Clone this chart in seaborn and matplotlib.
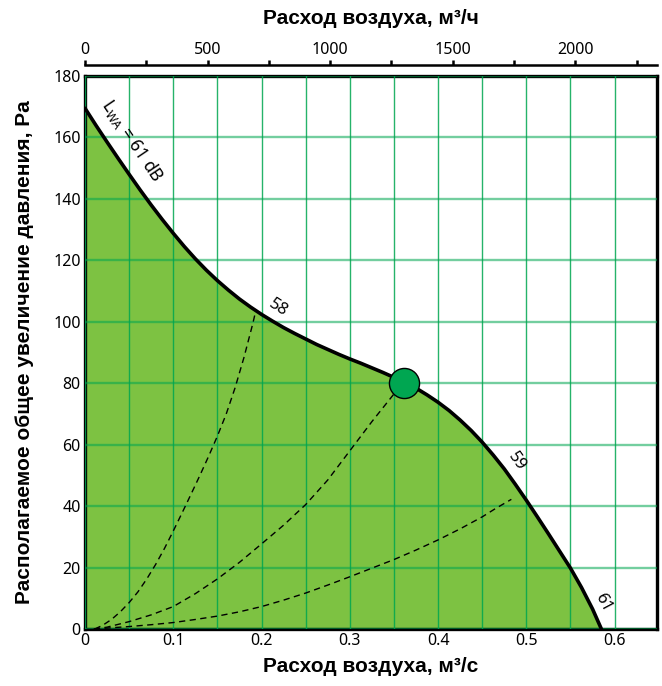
import matplotlib
matplotlib.use("Agg")
import matplotlib.pyplot as plt
import seaborn as sns
from matplotlib.ticker import MultipleLocator, FixedLocator

# ---- data ----
# fan curve L_WA = 61 dB: flow (m3/s) vs available pressure (Pa)
fan_q = [0, 0.0125, 0.025, 0.0375, 0.05, 0.0625, 0.075, 0.0875, 0.1, 0.1125,
         0.125, 0.1375, 0.15, 0.1625, 0.175, 0.1875, 0.2, 0.2125, 0.225, 0.2375,
         0.25, 0.2625, 0.275, 0.2875, 0.3, 0.3125, 0.325, 0.3375, 0.35, 0.3625,
         0.375, 0.3875, 0.4, 0.4125, 0.425, 0.4375, 0.45, 0.4625, 0.475, 0.4875,
         0.5, 0.5125, 0.525, 0.5375, 0.55, 0.5625, 0.575, 0.585]
fan_p = [169.5, 163.9, 158.5, 153.2, 148.0, 142.9, 138.0, 133.3, 128.8, 124.5,
         120.5, 116.8, 113.4, 110.3, 107.4, 104.8, 102.4, 100.2, 98.1, 96.2,
         94.4, 92.6, 91.0, 89.4, 87.9, 86.5, 85.0, 83.5, 81.9, 80.2,
         78.4, 76.2, 73.8, 71.1, 68.0, 64.6, 60.8, 56.6, 52.1, 47.1,
         41.9, 36.5, 31.0, 25.4, 19.8, 13.5, 6.5, 0]

# system curves (dashed)
sys1_q = [0.011, 0.02, 0.03, 0.04, 0.05, 0.06, 0.07, 0.08, 0.09, 0.1, 0.11,
          0.12, 0.13, 0.14, 0.15, 0.16, 0.17, 0.18, 0.19, 0.193]
sys1_p = [0, 1.2, 3.1, 5.6, 8.6, 12.1, 16.3, 21.0, 26.2, 31.9, 37.8,
          43.8, 49.9, 56.2, 62.8, 70.0, 78.5, 88.3, 99.3, 103.0]
sys2_q = [0.01, 0.025, 0.05, 0.075, 0.1, 0.125, 0.15, 0.175, 0.2, 0.225, 0.25,
          0.275, 0.3, 0.325, 0.35, 0.361]
sys2_p = [0, 0.6, 2.4, 4.6, 7.3, 11.5, 16.3, 21.7, 27.7, 33.8, 40.5,
          48.5, 58, 67.5, 76.5, 80]
sys3_q = [0.01, 0.025, 0.05, 0.075, 0.1, 0.125, 0.15, 0.175, 0.2, 0.225, 0.25,
          0.275, 0.3, 0.325, 0.35, 0.375, 0.4, 0.425, 0.45, 0.465, 0.483]
sys3_p = [0, 0.3, 0.8, 1.4, 2.1, 3.1, 4.2, 5.6, 7.3, 9.4, 11.7,
          14.3, 17, 19.8, 22.6, 25.7, 29, 32.6, 36.5, 39.2, 42.2]

# operating point
op_q = [0.361]
op_p = [80]

# curve labels
lbl_text = [r"$\mathregular{L_{WA}}$ = 61 dB", "58", "59", "61"]
lbl_q = [0.054, 0.2186, 0.4888, 0.5866]
lbl_p = [159.0, 104.5, 54.5, 8.5]
lbl_rot = [-56, -33, -55, -62]

x_ticks = [0, 0.1, 0.2, 0.3, 0.4, 0.5, 0.6]
x_labels = ["0", "0.1", "0.2", "0.3", "0.4", "0.5", "0.6"]
y_ticks = [0, 20, 40, 60, 80, 100, 120, 140, 160, 180]
top_ticks = [0, 500, 1000, 1500, 2000]
top_minor = [250, 750, 1250, 1750, 2250]

# ---- figure ----
sns.set_theme(style="white")
plt.rcParams["font.family"] = ["Noto Sans", "DejaVu Sans"]
plt.rcParams["mathtext.fontset"] = "custom"
plt.rcParams["mathtext.rm"] = "Noto Sans"

fig = plt.figure(figsize=(6.62, 6.86), dpi=100)
ax = fig.add_axes([85 / 662, 1 - 629 / 686, (657 - 85) / 662, (629 - 76) / 686])

ax.set_xlim(0, 0.648)
ax.set_ylim(0, 180)

# fill under fan curve
ax.fill_between(fan_q, fan_p, 0, color="#7dc242", linewidth=0, zorder=1)

# grid
ax.xaxis.set_major_locator(FixedLocator(x_ticks))
ax.xaxis.set_minor_locator(MultipleLocator(0.05))
ax.yaxis.set_major_locator(FixedLocator(y_ticks))
ax.set_axisbelow(False)
ax.grid(which="both", axis="x", color="#00a650", alpha=0.85, linewidth=1.0, zorder=2)
ax.grid(which="major", axis="y", color="#00a650", alpha=0.55, linewidth=1.7, zorder=2)

# system curves
dash = (0, (4.5, 3.2))
for qq, pp in [(sys1_q, sys1_p), (sys2_q, sys2_p), (sys3_q, sys3_p)]:
    sns.lineplot(x=qq, y=pp, ax=ax, color="black", linewidth=1.0,
                 linestyle=dash, estimator=None, sort=False, zorder=3)

# fan curve
sns.lineplot(x=fan_q, y=fan_p, ax=ax, color="black", linewidth=2.6,
             estimator=None, sort=False, zorder=4,
             solid_joinstyle="round", solid_capstyle="round")

# operating point
sns.scatterplot(x=op_q, y=op_p, ax=ax, s=470, color="#00a651",
                edgecolor="black", linewidth=1.0, zorder=5)

# labels along curves
for i, (t, q, p, r) in enumerate(zip(lbl_text, lbl_q, lbl_p, lbl_rot)):
    ax.text(q, p, t, rotation=r, rotation_mode="anchor", ha="center",
            va="center", fontsize=12.5 if i == 0 else 12, color="black", zorder=6)

# ticks
ax.set_xticklabels(x_labels)
ax.set_yticklabels([str(v) for v in y_ticks])
ax.tick_params(axis="both", which="both", length=0, labelsize=11.5, pad=3,
               colors="black")

for s in ax.spines.values():
    s.set_visible(True)
    s.set_color("black")
    s.set_linewidth(2.4)

label_font = dict(family=["Liberation Sans", "DejaVu Sans"], weight="bold",
                  size=15, color="black")
ax.set_xlabel("Расход воздуха, м³/с", labelpad=6, **label_font)
ax.set_ylabel("Располагаемое общее увеличение давления, Pa", labelpad=14,
              **label_font)

# top axis in m3/h
sec = ax.secondary_xaxis("top", functions=(lambda q: q * 3600, lambda m: m / 3600))
sec.spines["top"].set_position(("outward", 8))
sec.spines["top"].set_linewidth(1.8)
sec.spines["top"].set_color("black")
sec.set_xticks(top_ticks)
sec.set_xticklabels([str(v) for v in top_ticks])
sec.xaxis.set_minor_locator(FixedLocator(top_minor))
sec.tick_params(axis="x", which="both", direction="out", length=3.5, width=1.8,
                pad=1.5, labelsize=11.5, colors="black")
sec.set_xlabel("Расход воздуха, м³/ч", labelpad=13, **label_font)

fig.savefig("out.png", dpi=100)
